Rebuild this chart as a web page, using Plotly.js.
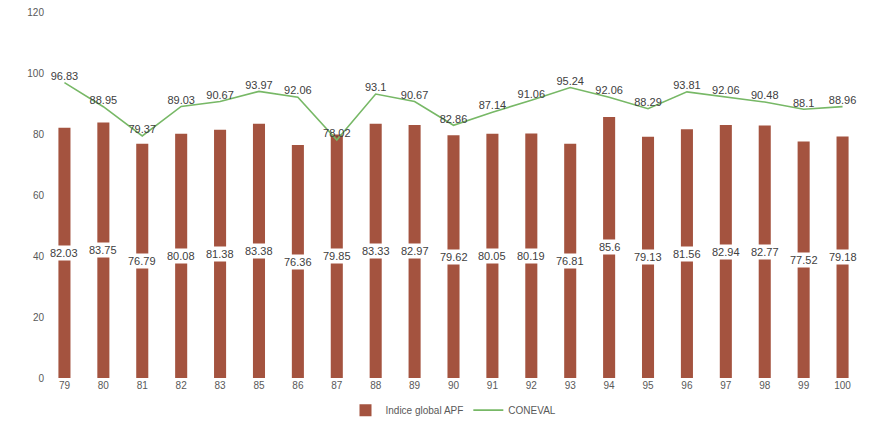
<!DOCTYPE html>
<html>
<head>
<meta charset="utf-8">
<script src="https://cdn.plot.ly/plotly-3.0.1.min.js"></script>
<style>html,body{margin:0;padding:0;background:#fff;}#chart{width:873px;height:434px;}</style>
</head>
<body>
<div id="chart"></div>
<script>
const categories = ["79","80","81","82","83","85","86","87","88","89","90","91","92","93","94","95","96","97","98","99","100"];
const apfValues = [82.03,83.75,76.79,80.08,81.38,83.38,76.36,79.85,83.33,82.97,79.62,80.05,80.19,76.81,85.6,79.13,81.56,82.94,82.77,77.52,79.18];
const conevalValues = [96.83,88.95,79.37,89.03,90.67,93.97,92.06,78.02,93.1,90.67,82.86,87.14,91.06,95.24,92.06,88.29,93.81,92.06,90.48,88.1,88.96];
const seriesNames = ["Indice global APF","CONEVAL"];
const yTicks = [0,20,40,60,80,100,120];

const barColor = "#a4533f";
const lineColor = "#77b866";
const font = "Liberation Sans, Arial, sans-serif";

const traces = [
  {
    type: "bar",
    x: categories,
    y: apfValues,
    name: seriesNames[0],
    marker: {color: barColor},
    hoverinfo: "x+y"
  },
  {
    type: "scatter",
    mode: "lines+text",
    x: categories,
    y: conevalValues,
    name: seriesNames[1],
    line: {color: lineColor, width: 1.6},
    text: conevalValues.map(v => String(v)),
    textposition: "top center",
    textfont: {family: font, size: 11, color: "#404040"},
    cliponaxis: false
  }
];

const annotations = categories.map((c, i) => ({
  x: i, y: apfValues[i] / 2, xref: "x", yref: "y",
  text: String(apfValues[i]), showarrow: false,
  bgcolor: "#ffffff", borderpad: 1,
  font: {family: font, size: 11, color: "#404040"}
}));

const layout = {
  width: 873, height: 434,
  margin: {l: 45, r: 11, t: 12, b: 56},
  paper_bgcolor: "#ffffff",
  plot_bgcolor: "#ffffff",
  bargap: 0.69,
  showlegend: true,
  legend: {
    orientation: "h", x: 0.5, xanchor: "center",
    yref: "container", y: 0.055, yanchor: "middle",
    font: {family: font, size: 10, color: "#595959"}
  },
  xaxis: {
    type: "category",
    range: [-0.5, categories.length - 0.5],
    tickangle: 0,
    showgrid: false, zeroline: false, showline: false,
    ticks: "", tickfont: {family: font, size: 10, color: "#595959"}
  },
  yaxis: {
    range: [0, 120], tickvals: yTicks,
    showgrid: false, zeroline: false, showline: false,
    ticks: "", tickfont: {family: font, size: 10, color: "#595959"}
  },
  annotations: annotations
};

Plotly.newPlot("chart", traces, layout, {displayModeBar: false, staticPlot: true});
</script>
</body>
</html>
